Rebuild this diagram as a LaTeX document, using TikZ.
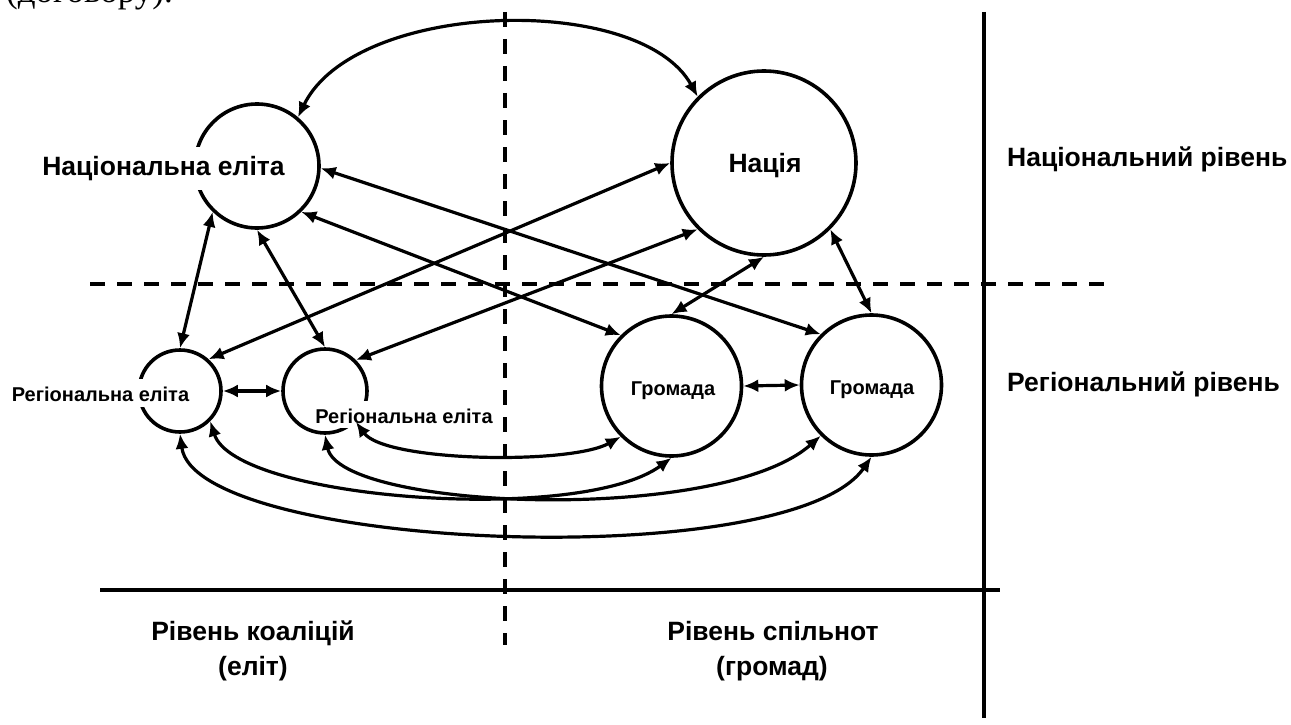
\documentclass[tikz,border=0pt]{standalone}
\usepackage{fontspec}
\setmainfont{Liberation Sans}
\newfontfamily\serifcyr{Liberation Serif}
\usetikzlibrary{arrows.meta}
\begin{document}
\begin{tikzpicture}[x=1pt,y=-1pt,
  circ/.style={circle,draw,line width=3.6pt,inner sep=0pt},
  big/.style={font=\fontsize{26.5}{30}\selectfont\bfseries},
  small/.style={font=\fontsize{20}{24}\selectfont\bfseries},
  lbl/.style={inner sep=0pt,anchor=base},
  cover/.style={fill=white,anchor=base,inner xsep=2pt},
  conn/.style={line width=3.2pt,{Latex[length=15pt,width=13pt]}-{Latex[length=15pt,width=13pt]}},
  dline/.style={line width=3.3pt,dash pattern=on 15pt off 12pt},
  sline/.style={line width=3.3pt}]
\useasboundingbox (0,0) rectangle (1291,725);

% fragment of the page text above
\node[anchor=base west,inner sep=0pt,font=\serifcyr\fontsize{35}{40}\selectfont] (frag) at (6,3) {(договору).};

% axes
\coordinate (vd1) at (505,12);  \coordinate (vd2) at (505,645);
\coordinate (hd1) at (90,284);  \coordinate (hd2) at (1110,284);
\coordinate (vs1) at (984,12);  \coordinate (vs2) at (984,718);
\coordinate (hs1) at (100,590); \coordinate (hs2) at (1000,590);
\draw[dline] (vd1) -- (vd2);
\draw[dline] (hd1) -- (hd2);
\draw[sline] (vs1) -- (vs2);
\draw[sline] (hs1) -- (hs2);

% circles
\node[circ,minimum size=124pt] (ne)  at (257,166) {};
\node[circ,minimum size=184pt] (nat) at (764,163) {};
\node[circ,minimum size=82pt]  (re1) at (180,391) {};
\node[circ,minimum size=84pt]  (re2) at (325,391) {};
\node[circ,minimum size=140pt] (g1)  at (671.5,386) {};
\node[circ,minimum size=140pt] (g2)  at (871.5,385) {};

% labels
\node[big,cover,inner ysep=10pt,text height=18pt,text depth=5pt] (nelab) at (163.5,175) {Національна еліта};
\node[small,cover,inner ysep=6pt,text height=16pt,text depth=0pt] (r1lab) at (100.5,401) {Регіональна еліта};
\node[small,cover,inner ysep=5pt,text height=17pt,text depth=0pt] (r2lab) at (404,423) {Регіональна еліта};
\node[big,lbl] (natlab) at (765,172) {Нація};
\node[small,lbl] (g1lab) at (673,395) {Громада};
\node[small,lbl] (g2lab) at (872,394) {Громада};
\node[big,lbl,anchor=base west] (lvl1) at (1007,166) {Національний рівень};
\node[big,lbl,anchor=base west] (lvl2) at (1007,391) {Регіональний рівень};
\node[big,lbl] (b1)  at (253,640) {Рівень коаліцій};
\node[big,lbl] (b1b) at (253,675) {(еліт)};
\node[big,lbl] (b2)  at (773,640) {Рівень спільнот};
\node[big,lbl] (b2b) at (772,675) {(громад)};

% connectors
\draw[conn] (ne.50) .. controls (355,0) and (640,-8) .. (nat.135);
\draw[conn] (re1.north) -- (ne.226);
\draw[conn] (re2.north) -- (ne.270);
\draw[conn] (ne.-46) -- (g1.135);
\draw[conn] (ne.-2) -- (g2.135);
\draw[conn] (re1.48) -- (nat.180);
\draw[conn] (re2.45) -- (nat.225);
\draw[conn] (g1.90) -- (nat.270);
\draw[conn] (g2.90) -- (nat.-45);
\draw[conn] (re1.east) -- (re2.west);
\draw[conn] (g1.east) -- (g2.west);
\draw[conn] (re2.-45) .. controls (385,462) and (570,465) .. (g1.225);
\draw[conn] (re2.south) .. controls (340,510) and (720,525) .. (g2.225);
\draw[conn] (re1.-45) .. controls (235,500) and (580,525) .. (g1.south);
\draw[conn] (re1.south) .. controls (195,550) and (790,575) .. (g2.south);
\end{tikzpicture}
\end{document}
